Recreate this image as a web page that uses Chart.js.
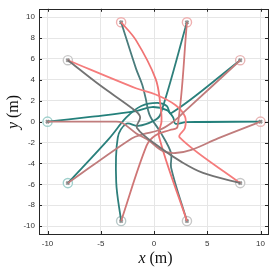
<!DOCTYPE html>
<html><head><meta charset="utf-8">
<script src="https://cdn.jsdelivr.net/npm/chart.js@4"></script>
<style>html,body{margin:0;padding:0;background:#fff}#c{display:block}</style>
</head><body>
<canvas id="c" width="274" height="271"></canvas>
<script>
// ---- data ----
const xTicks = [-10, -5, 0, 5, 10];
const yTicks = [-10, -8, -6, -4, -2, 0, 2, 4, 6, 8, 10];
const stations = [[10,0],[8.09,5.88],[3.09,9.51],[-3.09,9.51],[-8.09,5.88],[-10,0],[-8.09,-5.88],[-3.09,-9.51],[3.09,-9.51],[8.09,-5.88]];
const stationRing = ['#e8b4b4','#e8b4b4','#efb0b0','#f0b0b0','#c8c8c8','#9fd0cc','#9fd0cc','#b8c8c8','#c8c8c8','#c8c8c8'];

const grayP4toP9   = [[-8.09,5.88],[-5.1,3.5],[-1.7,1.0],[-1.3,0.4],[-1.6,-0.6],[0.6,-2.5],[2.5,-3.8],[4.6,-4.9],[8.09,-5.88]];
const salmonP4toP9 = [[-8.09,5.88],[-1.7,3.2],[0.15,2.6],[2.0,1.6],[2.9,0.5],[2.9,-0.6],[2.4,-1.5],[8.09,-5.88]];
const salmonP3toP8 = [[-3.09,9.51],[-1.7,7.8],[0.15,4.1],[0.6,1.6],[0.7,0.0],[0.45,-1.35],[3.09,-9.51]];
const rosyP0toP5   = [[10,0],[6,-1.6],[3.5,-2.7],[2.0,-3.0],[0.8,-2.8],[-0.5,-1.8],[-1.7,-1.1],[-3.0,-0.1],[-3.6,0],[-10,0]];
const rosyP1toP6   = [[8.09,5.88],[2.9,1.0],[1.8,0.0],[0.5,-0.8],[-1.0,-1.2],[-2.1,-1.6],[-8.09,-5.88]];
const rosyP7toP2   = [[-3.09,-9.51],[-0.7,-2.3],[0.15,-1.3],[1.5,-0.8],[2.2,-0.5],[3.09,9.51]];
const tealP5toP0   = [[-10,0],[-6,0.45],[-1.7,1.0],[-0.2,1.4],[1.2,1.1],[1.8,0.4],[2.0,-0.2],[3.0,-0.05],[10,0]];
const tealP6toP1   = [[-8.09,-5.88],[-4.2,-1.6],[-2.6,0.4],[-1.2,1.5],[0.3,1.8],[1.2,1.5],[1.6,0.8],[8.09,5.88]];
const tealP2toP7   = [[3.09,9.51],[0.6,0.7],[0.0,0.1],[-1.5,-0.4],[-2.6,-0.2],[-3.4,-1.5],[-3.55,-5.8],[-3.09,-9.51]];
const tealP8toP3   = [[3.09,-9.51],[1.6,-4.4],[1.6,-3.0],[0.6,-1.0],[-0.4,0.6],[-0.8,2.3],[-1.1,3.5],[-1.7,5.1],[-3.09,9.51]];

const paths = [
  {pts: grayP4toP9,   color: '#737373'},
  {pts: rosyP0toP5,   color: '#c07c7c'},
  {pts: rosyP1toP6,   color: '#c07c7c'},
  {pts: rosyP7toP2,   color: '#cf7676'},
  {pts: salmonP4toP9, color: '#f57c7c'},
  {pts: salmonP3toP8, color: '#f07474'},
  {pts: tealP2toP7,   color: '#2e7f7b'},
  {pts: tealP6toP1,   color: '#2a807c'},
  {pts: tealP8toP3,   color: '#4a7c7c'},
  {pts: tealP5toP0,   color: '#23807b'}
];

const datasets = paths.map(p => ({
  data: p.pts.map(([x,y]) => ({x, y})),
  showLine: true, borderColor: p.color, borderWidth: 1.8, pointRadius: 0,
  tension: 0.35, fill: false
}));
datasets.push({
  data: stations.map(([x,y]) => ({x, y})),
  showLine: false, pointRadius: 4.6, pointBorderWidth: 1.4,
  pointBorderColor: stationRing, pointBackgroundColor: 'rgba(255,255,255,0.55)'
});
datasets.push({
  data: stations.map(([x,y]) => ({x, y})),
  showLine: false, pointStyle: 'crossRot', pointRadius: 2.2, pointBorderWidth: 2,
  pointBorderColor: '#111'
});

const boxPlugin = {
  id: 'box',
  afterDraw(chart) {
    const {ctx, chartArea: a, scales: {x, y}} = chart;
    ctx.save();
    ctx.strokeStyle = '#262626'; ctx.lineWidth = 1;
    ctx.strokeRect(Math.round(a.left)+0.5, Math.round(a.top)+0.5, Math.round(a.right-a.left), Math.round(a.bottom-a.top));
    ctx.beginPath();
    xTicks.forEach(v => { const px = Math.round(x.getPixelForValue(v))+0.5;
      ctx.moveTo(px, a.bottom); ctx.lineTo(px, a.bottom-3);
      ctx.moveTo(px, a.top); ctx.lineTo(px, a.top+3); });
    yTicks.forEach(v => { const py = Math.round(y.getPixelForValue(v))+0.5;
      ctx.moveTo(a.left, py); ctx.lineTo(a.left+3, py);
      ctx.moveTo(a.right, py); ctx.lineTo(a.right-3, py); });
    ctx.stroke();
    // axis titles
    ctx.fillStyle = '#111';
    const drawTitle = (varName) => {
      ctx.font = 'italic 16px "Liberation Serif"';
      const w1 = ctx.measureText(varName).width;
      ctx.font = '16px "Liberation Serif"';
      const w2 = ctx.measureText(' (m)').width;
      const tw = w1 + w2;
      ctx.font = 'italic 16px "Liberation Serif"';
      ctx.fillText(varName, -tw/2, 0);
      ctx.font = '16px "Liberation Serif"';
      ctx.fillText(' (m)', -tw/2 + w1, 0);
    };
    ctx.textBaseline = 'middle'; ctx.textAlign = 'left';
    ctx.save(); ctx.translate((a.left+a.right)/2 + 2, 259); drawTitle('x'); ctx.restore();
    ctx.save(); ctx.translate(14, 112); ctx.rotate(-Math.PI/2); drawTitle('y'); ctx.restore();
    ctx.restore();
  }
};

new Chart(document.getElementById('c'), {
  type: 'scatter',
  data: {datasets},
  options: {
    responsive: false, animation: false,
    layout: {padding: {top: 2, right: 4, left: 0, bottom: 0}},
    plugins: {legend: {display: false}, tooltip: {enabled: false}},
    scales: {
      x: {
        min: -10.8, max: 10.7,
        afterFit: s => { s.height = 37; },
        afterBuildTicks: s => { s.ticks = xTicks.map(v => ({value: v})); },
        ticks: {font: {family: 'Liberation Sans', size: 8}, color: '#333', padding: 5, maxRotation: 0},
        grid: {color: '#e6e6e6', drawTicks: false},
        border: {display: false}
      },
      y: {
        min: -10.75, max: 10.8,
        afterFit: s => { s.width = 39; },
        afterBuildTicks: s => { s.ticks = yTicks.map(v => ({value: v})); },
        ticks: {font: {family: 'Liberation Sans', size: 8}, color: '#333', padding: 4},
        grid: {color: '#e6e6e6', drawTicks: false},
        border: {display: false}
      }
    }
  },
  plugins: [boxPlugin]
});
</script>
</body></html>
